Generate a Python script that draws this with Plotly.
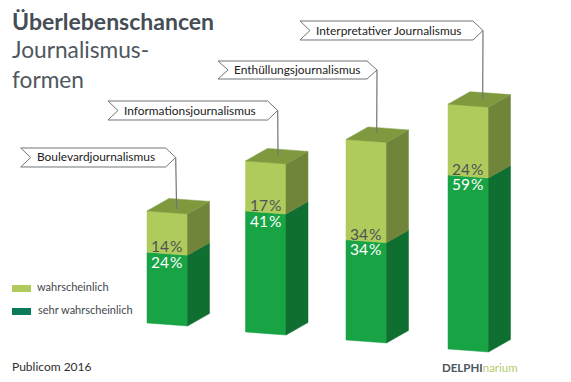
import plotly.graph_objects as go

W, H = 571, 382
categories = ["Boulevardjournalismus", "Informationsjournalismus", "Enthüllungsjournalismus", "Interpretativer Journalismus"]
sehr_wahrscheinlich = [24, 41, 34, 59]
wahrscheinlich = [14, 17, 34, 24]
title = "Überlebenschancen"
subtitle = ["Journalismus-", "formen"]
legend_names = ["wahrscheinlich", "sehr wahrscheinlich"]
source = "Publicom 2016"

PX = 2.95          # pixels per percentage point
Y0 = 349           # pixel row of value 0
left = [147, 245.5, 346, 448]
lift = [26, 17, 9, 0]
bw, dx, dy, slant = 40.5, 22, 12.5, 3
u = lambda px: px / PX
ymax, ymin = Y0 / PX, -(H - Y0) / PX
px_x = lambda x: x / W
px_y = lambda y: 1 - y / H

GREEN, GREEN_S = "#18A344", "#0F6F30"
LIME, LIME_S, LIME_T = "#AFCB5B", "#70853A", "#7F9A3E"
TXT = "#4A5259"

fig = go.Figure()


def poly(xs, ys, color):
    fig.add_trace(go.Scatter(x=xs + xs[:1], y=ys + ys[:1], mode="lines", fill="toself", fillcolor=color,
                             line=dict(color=color, width=0.5), hoverinfo="skip", showlegend=False))


for i, cat in enumerate(categories):
    x0, x1 = left[i], left[i] + bw
    b = u(lift[i])
    m = b + sehr_wahrscheinlich[i]
    t = m + wahrscheinlich[i]
    s, d = u(slant), u(dy)
    poly([x0, x1, x1, x0], [b, b - s, m - s, m], GREEN)
    poly([x0, x1, x1, x0], [m, m - s, t - s, t], LIME)
    poly([x1, x1 + dx, x1 + dx, x1], [b - s, b - s + d, m - s + d, m - s], GREEN_S)
    poly([x1, x1 + dx, x1 + dx, x1], [m - s, m - s + d, t - s + d, t - s], LIME_S)
    poly([x0, x1, x1 + dx, x0 + dx], [t, t - s, t - s + d, t + d], LIME_T)

ann = []


def text(x, y, s, size, color=TXT, anchor="left", font="Lato", xref="paper", yref="paper", yshift=0):
    ann.append(dict(x=x, y=y, xref=xref, yref=yref, text=s, showarrow=False, xanchor=anchor, yanchor="middle",
                    yshift=yshift, xshift=-2 if anchor == "left" else 0,
                    font=dict(family=font, size=size, color=color)))


HAIR = "\u200a"
for i in range(4):
    cx = left[i] + 19.5
    m = u(lift[i]) + sehr_wahrscheinlich[i]
    text(cx, m, f"{wahrscheinlich[i]}{HAIR}%", 15.5, "#4D5357", "center", xref="x", yref="y", yshift=6)
    text(cx, m, f"{sehr_wahrscheinlich[i]}{HAIR}%", 15.5, "#FFFFFF", "center", xref="x", yref="y", yshift=-9.5)

shapes = []
# callouts: left, right tip, top, bottom, leader end
callouts = [(20.7, 175.7, 148, 167, 176.6, 209), (108, 277.7, 101, 120, 278, 155),
            (218, 377, 61, 79, 376.7, 133), (300, 483, 21, 40, 482.7, 99)]
LINE = "#6F7579"
for (l, r, tp, bt, ex, ey), cat in zip(callouts, categories):
    mid = (tp + bt) / 2
    pts = [(l, tp), (r - 10, tp), (r, mid), (r - 10, bt), (l, bt), (l + 10, mid)]
    path = "M" + " L".join(f"{px_x(a):.5f},{px_y(c):.5f}" for a, c in pts) + " Z"
    shapes.append(dict(type="path", path=path, xref="paper", yref="paper", fillcolor="white",
                       line=dict(color=LINE, width=1)))
    shapes.append(dict(type="line", x0=px_x(r), y0=px_y(mid), x1=px_x(ex), y1=px_y(ey), xref="paper", yref="paper",
                       line=dict(color=LINE, width=1.2)))
    text(px_x(l + 16), px_y(mid - 0.5), cat, 11.9, "#222222")

text(px_x(12), px_y(21), f"<b>{title}</b>", 23, "#454D55")
text(px_x(12), px_y(50), subtitle[0], 22.7, "#4F575E")
text(px_x(12), px_y(79), subtitle[1], 22.7, "#4F575E")

# legend
for (yy, col, nm, tx) in [(288.5, LIME, legend_names[0], 37), (311.5, "#0A7A58", legend_names[1], 38)]:
    shapes.append(dict(type="rect", xref="paper", yref="paper", x0=px_x(12), x1=px_x(31), y0=px_y(yy - 3.5), y1=px_y(yy + 3.5),
                       fillcolor=col, line=dict(width=0)))
    text(px_x(tx), px_y(yy - 2), nm, 11, "#3F474E")

text(px_x(12), px_y(366), source, 12, "#2E2E2E")
text(px_x(442), px_y(367), "<b>DELPHI</b><span style='color:#B5CC6E'>narium</span>", 11.5, "#4D5560")

fig.update_layout(
    width=W, height=H, autosize=False, margin=dict(l=0, r=0, t=0, b=0), paper_bgcolor="white", plot_bgcolor="white",
    xaxis=dict(range=[0, W], visible=False, fixedrange=True),
    yaxis=dict(range=[ymin, ymax], visible=False, fixedrange=True),
    annotations=ann, shapes=shapes, showlegend=False, hovermode=False,
)
fig.write_html("out.html", config=dict(displayModeBar=False, responsive=False),
               post_script="document.body.style.margin='0';document.body.style.overflow='hidden';")
